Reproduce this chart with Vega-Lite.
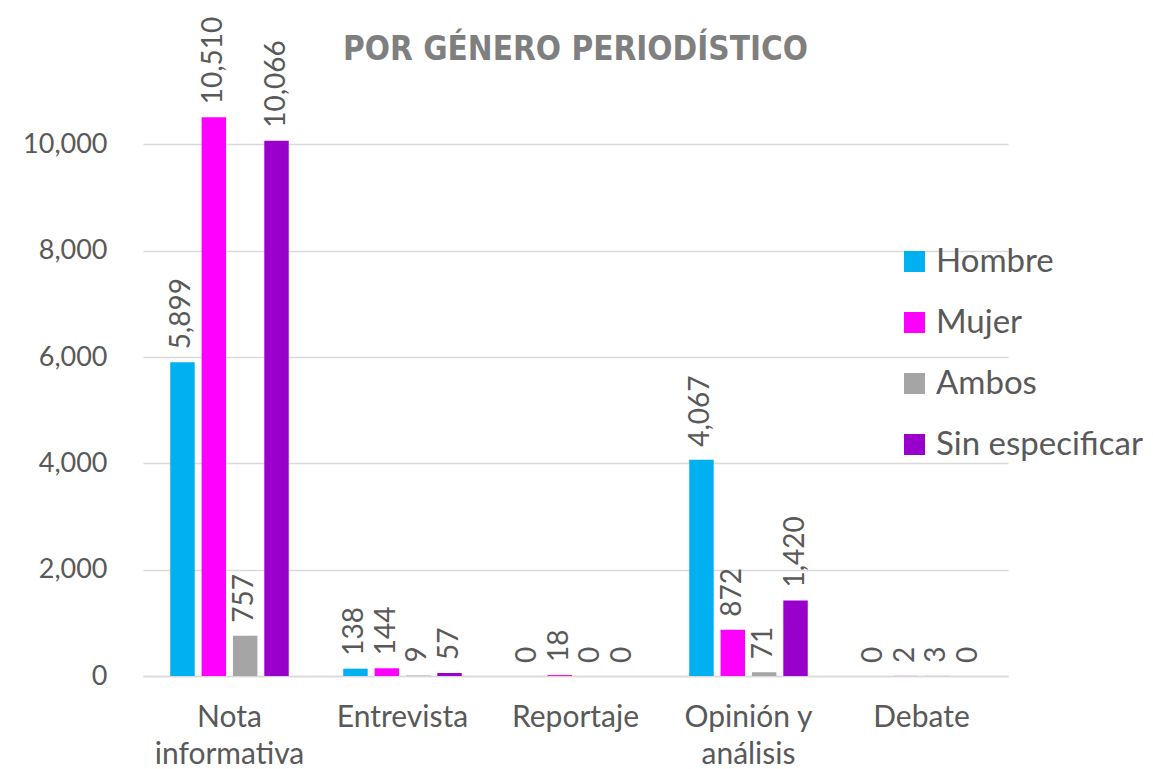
{
  "$schema": "https://vega.github.io/schema/vega-lite/v6.json",
  "autosize": "none",
  "width": 865,
  "height": 638,
  "padding": {"left": 143, "top": 38, "right": 145, "bottom": 93},
  "background": "#ffffff",
  "title": {
    "text": "POR GÉNERO PERIODÍSTICO",
    "font": "Liberation Sans Narrow, DejaVu Sans Condensed, sans-serif",
    "fontSize": 33,
    "fontWeight": "bold",
    "color": "#7f7f7f",
    "anchor": "middle",
    "offset": -50
  },
  "config": {
    "font": "Lato",
    "view": {"stroke": null}
  },
  "data": {
    "values": [
      {"genero": "Nota informativa", "sexo": "Hombre", "valor": 5899},
      {"genero": "Nota informativa", "sexo": "Mujer", "valor": 10510},
      {"genero": "Nota informativa", "sexo": "Ambos", "valor": 757},
      {"genero": "Nota informativa", "sexo": "Sin especificar", "valor": 10066},
      {"genero": "Entrevista", "sexo": "Hombre", "valor": 138},
      {"genero": "Entrevista", "sexo": "Mujer", "valor": 144},
      {"genero": "Entrevista", "sexo": "Ambos", "valor": 9},
      {"genero": "Entrevista", "sexo": "Sin especificar", "valor": 57},
      {"genero": "Reportaje", "sexo": "Hombre", "valor": 0},
      {"genero": "Reportaje", "sexo": "Mujer", "valor": 18},
      {"genero": "Reportaje", "sexo": "Ambos", "valor": 0},
      {"genero": "Reportaje", "sexo": "Sin especificar", "valor": 0},
      {"genero": "Opinión y análisis", "sexo": "Hombre", "valor": 4067},
      {"genero": "Opinión y análisis", "sexo": "Mujer", "valor": 872},
      {"genero": "Opinión y análisis", "sexo": "Ambos", "valor": 71},
      {"genero": "Opinión y análisis", "sexo": "Sin especificar", "valor": 1420},
      {"genero": "Debate", "sexo": "Hombre", "valor": 0},
      {"genero": "Debate", "sexo": "Mujer", "valor": 2},
      {"genero": "Debate", "sexo": "Ambos", "valor": 3},
      {"genero": "Debate", "sexo": "Sin especificar", "valor": 0}
    ]
  },
  "encoding": {
    "x": {
      "field": "genero",
      "type": "nominal",
      "sort": ["Nota informativa", "Entrevista", "Reportaje", "Opinión y análisis", "Debate"],
      "scale": {"paddingInner": 0.315, "paddingOuter": 0.1575},
      "axis": {
        "title": null,
        "labelAngle": 0,
        "labelFontSize": 30,
        "labelColor": "#595959",
        "labelPadding": 26,
        "labelBaseline": "top",
        "labelLineHeight": 37,
        "labelExpr": "datum.value == 'Nota informativa' ? ['Nota', 'informativa'] : datum.value == 'Opinión y análisis' ? ['Opinión y', 'análisis'] : datum.value",
        "ticks": false,
        "domain": true,
        "domainColor": "#d9d9d9",
        "domainWidth": 1.5,
        "grid": false
      }
    },
    "xOffset": {
      "field": "sexo",
      "type": "nominal",
      "sort": ["Hombre", "Mujer", "Ambos", "Sin especificar"],
      "scale": {"paddingInner": 0.22, "paddingOuter": 0}
    },
    "y": {
      "field": "valor",
      "type": "quantitative",
      "scale": {"domain": [0, 12000], "nice": false},
      "axis": {
        "title": null,
        "values": [0, 2000, 4000, 6000, 8000, 10000],
        "format": ",.0f",
        "labelFontSize": 27,
        "labelColor": "#595959",
        "labelPadding": 36,
        "ticks": false,
        "domain": false,
        "grid": true,
        "gridColor": "#d9d9d9",
        "gridWidth": 1.5
      }
    }
  },
  "layer": [
    {
      "mark": {"type": "bar"},
      "encoding": {
        "color": {
          "field": "sexo",
          "type": "nominal",
          "sort": ["Hombre", "Mujer", "Ambos", "Sin especificar"],
          "scale": {
            "domain": ["Hombre", "Mujer", "Ambos", "Sin especificar"],
            "range": ["#00b0f0", "#ff00ff", "#a5a5a5", "#9900cc"]
          },
          "legend": {
            "title": null,
            "orient": "none",
            "legendX": 755,
            "legendY": 207,
            "padding": 0,
            "symbolType": "square",
            "symbolSize": 441,
            "symbolStrokeWidth": 0,
            "labelFontSize": 33,
            "labelColor": "#595959",
            "labelOffset": 5,
            "labelLimit": 400,
            "rowPadding": 27
          }
        }
      }
    },
    {
      "mark": {
        "type": "text",
        "angle": 270,
        "align": "left",
        "baseline": "middle",
        "dx": 13,
        "fontSize": 28,
        "color": "#595959"
      },
      "encoding": {
        "text": {"field": "valor", "type": "quantitative", "format": ",.0f"}
      }
    }
  ]
}
